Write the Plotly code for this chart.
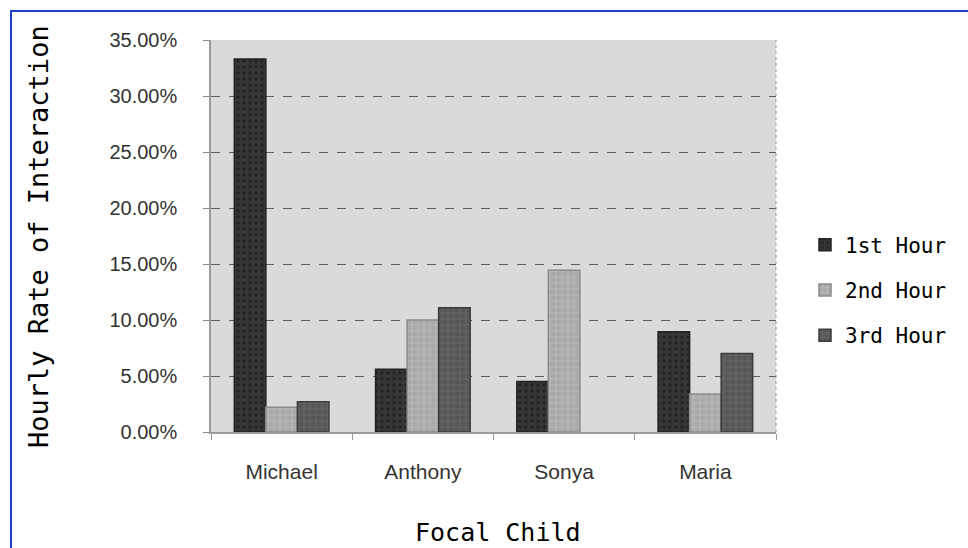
import plotly.graph_objects as go

children = ["Michael", "Anthony", "Sonya", "Maria"]
hour_1 = [33.3, 5.6, 4.5, 8.95]
hour_2 = [2.2, 10.0, 14.45, 3.4]
hour_3 = [2.7, 11.1, 0.0, 7.0]
series_names = ["1st Hour", "2nd Hour", "3rd Hour"]
y_ticks = [0, 5, 10, 15, 20, 25, 30, 35]
y_tick_text = [f"{v:.2f}%" for v in y_ticks]

styles = [
    dict(color="#363636", fg="#0e0e0e", shape=".", line="#222222"),
    dict(color="#a9a9a9", fg="#cfcfcf", shape="+", line="#8a8a8a"),
    dict(color="#575757", fg="#7a7a7a", shape="+", line="#3c3c3c"),
]

fig = go.Figure()
for name, vals, st in zip(series_names, [hour_1, hour_2, hour_3], styles):
    fig.add_trace(go.Bar(
        x=children, y=vals, name=name, legendgroup=name,
        marker=dict(
            color=st["color"],
            # no outline on empty bars
            line=dict(color=st["line"], width=[1.5 if v > 0 else 0 for v in vals]),
            pattern=dict(shape=st["shape"], fgcolor=st["fg"], bgcolor=st["color"],
                         size=6, solidity=0.25, fillmode="overlay"),
        ),
    ))

# plot area in pixels: x 211..776, y 40..432
W, H = 968, 548
L, R, T, B = 211, W - 776, 40, H - 432
pw, ph = W - L - R, H - T - B

def px(x):
    return (x - L) / pw

def py(y):
    return (H - B - y) / ph

fig.update_layout(
    width=W, height=H,
    margin=dict(l=L, r=R, t=T, b=B, autoexpand=False),
    paper_bgcolor="white",
    plot_bgcolor="#dadada",
    barmode="group",
    bargap=0.33,
    bargroupgap=0.0,
    font=dict(family="Liberation Sans", color="#222222"),
    showlegend=True,
    legend=dict(
        x=px(805), y=py(290), xanchor="left", yanchor="middle",
        font=dict(family="DejaVu Sans Mono", size=21, color="#000000"),
        bgcolor="rgba(0,0,0,0)", tracegroupgap=15, itemwidth=30,
    ),
    xaxis=dict(
        tickfont=dict(size=21, color="#333333"),
        showline=True, linecolor="#9a9a9a", linewidth=1.5,
        ticks="outside", tickson="boundaries", ticklen=6, tickcolor="#9a9a9a",
        ticklabelstandoff=20,
        showgrid=False, mirror=False,
    ),
    yaxis=dict(
        range=[0, 35], tickvals=y_ticks, ticktext=y_tick_text,
        tickfont=dict(size=20, color="#333333"),
        showgrid=True, gridcolor="#5e5e5e", griddash="dash", gridwidth=1.2,
        showline=True, linecolor="#9a9a9a", linewidth=1.5,
        ticks="outside", ticklen=6, tickcolor="#8a8a8a", ticklabelstandoff=22,
        zeroline=False,
    ),
    annotations=[
        dict(text="Hourly Rate of Interaction", textangle=-90,
             x=px(38), y=py(237), xref="paper", yref="paper",
             xanchor="center", yanchor="middle", showarrow=False,
             font=dict(family="DejaVu Sans Mono", size=27, color="#000000")),
        dict(text="Focal Child",
             x=px(498), y=py(532), xref="paper", yref="paper",
             xanchor="center", yanchor="middle", showarrow=False,
             font=dict(family="DejaVu Sans Mono", size=25, color="#000000")),
    ],
    shapes=[
        dict(type="rect", xref="paper", yref="paper",
             x0=px(11), x1=px(1100), y0=py(700), y1=py(11),
             line=dict(color="#1f3fc4", width=2), fillcolor="rgba(0,0,0,0)"),
        dict(type="line", xref="paper", yref="paper",
             x0=1, x1=1, y0=0, y1=1,
             line=dict(color="#9a9a9a", width=1, dash="dot")),
    ],
)

fig.write_html("out.html")
